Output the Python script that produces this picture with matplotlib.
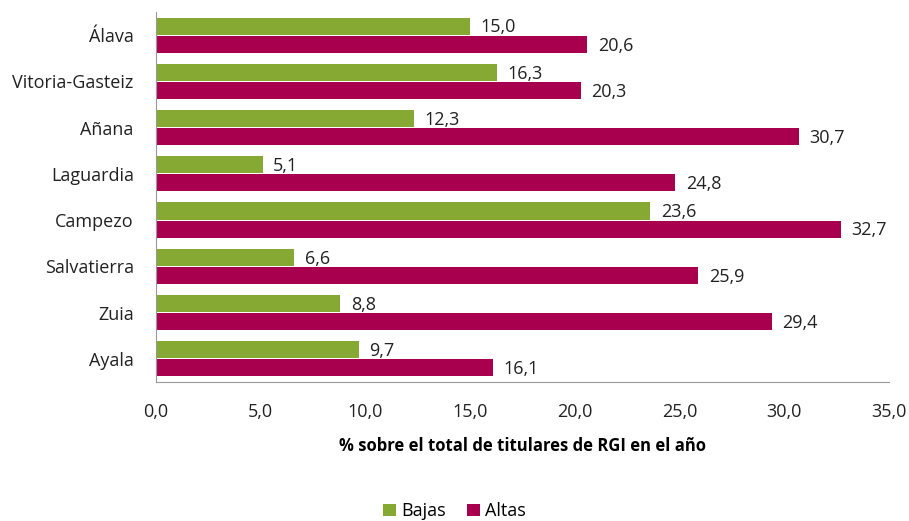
import matplotlib
matplotlib.use("Agg")
import matplotlib.pyplot as plt
import numpy as np

categories = ["Álava", "Vitoria-Gasteiz", "Añana", "Laguardia", "Campezo", "Salvatierra", "Zuia", "Ayala"]
bajas = [15.0, 16.3, 12.3, 5.1, 23.6, 6.6, 8.8, 9.7]
altas = [20.6, 20.3, 30.7, 24.8, 32.7, 25.9, 29.4, 16.1]
xticks = [0, 5, 10, 15, 20, 25, 30, 35]

plt.rcParams['font.family'] = ['Open Sans', 'DejaVu Sans']

fig = plt.figure(figsize=(9.09, 5.21), dpi=100)
ax = fig.add_axes([0.1716, 0.267, 0.8064, 0.71])

green = "#86A934"
magenta = "#A8004F"
fs = 13
y = np.arange(len(categories))
h = 0.37
gap = 0.02
ax.barh(y - h/2 - gap/2, bajas, height=h, color=green, label="Bajas")
ax.barh(y + h/2 + gap/2, altas, height=h, color=magenta, label="Altas")

for yi, v in zip(y, bajas):
    ax.text(v + 0.5, yi - h/2 - gap/2 + 0.03, f"{v:.1f}".replace(".", ","), va="center", ha="left", fontsize=fs, color="#222222")
for yi, v in zip(y, altas):
    ax.text(v + 0.5, yi + h/2 + gap/2 + 0.03, f"{v:.1f}".replace(".", ","), va="center", ha="left", fontsize=fs, color="#222222")

ax.set_ylim(len(categories) - 0.5, -0.5)
ax.set_xlim(0, 35)
ax.set_yticks(y)
ax.set_yticklabels(categories, fontsize=fs)
ax.set_xticks(xticks)
ax.set_xticklabels([f"{t:.1f}".replace(".", ",") for t in xticks], fontsize=fs)
ax.tick_params(axis="y", length=0, pad=16, colors="#222222")
ax.tick_params(axis="x", length=0, pad=15, colors="#222222")
for s in ["top", "right"]:
    ax.spines[s].set_visible(False)
for s in ["left", "bottom"]:
    ax.spines[s].set_color("#999999")
ax.set_xlabel("% sobre el total de titulares de RGI en el año", fontsize=12, fontweight="bold", labelpad=12)

fig.legend(loc="lower center", bbox_to_anchor=(0.5, -0.03), ncol=2, frameon=False,
           fontsize=fs, handlelength=0.7, handleheight=0.7, handletextpad=0.3, columnspacing=1.2)

fig.savefig("out.png", dpi=100)
